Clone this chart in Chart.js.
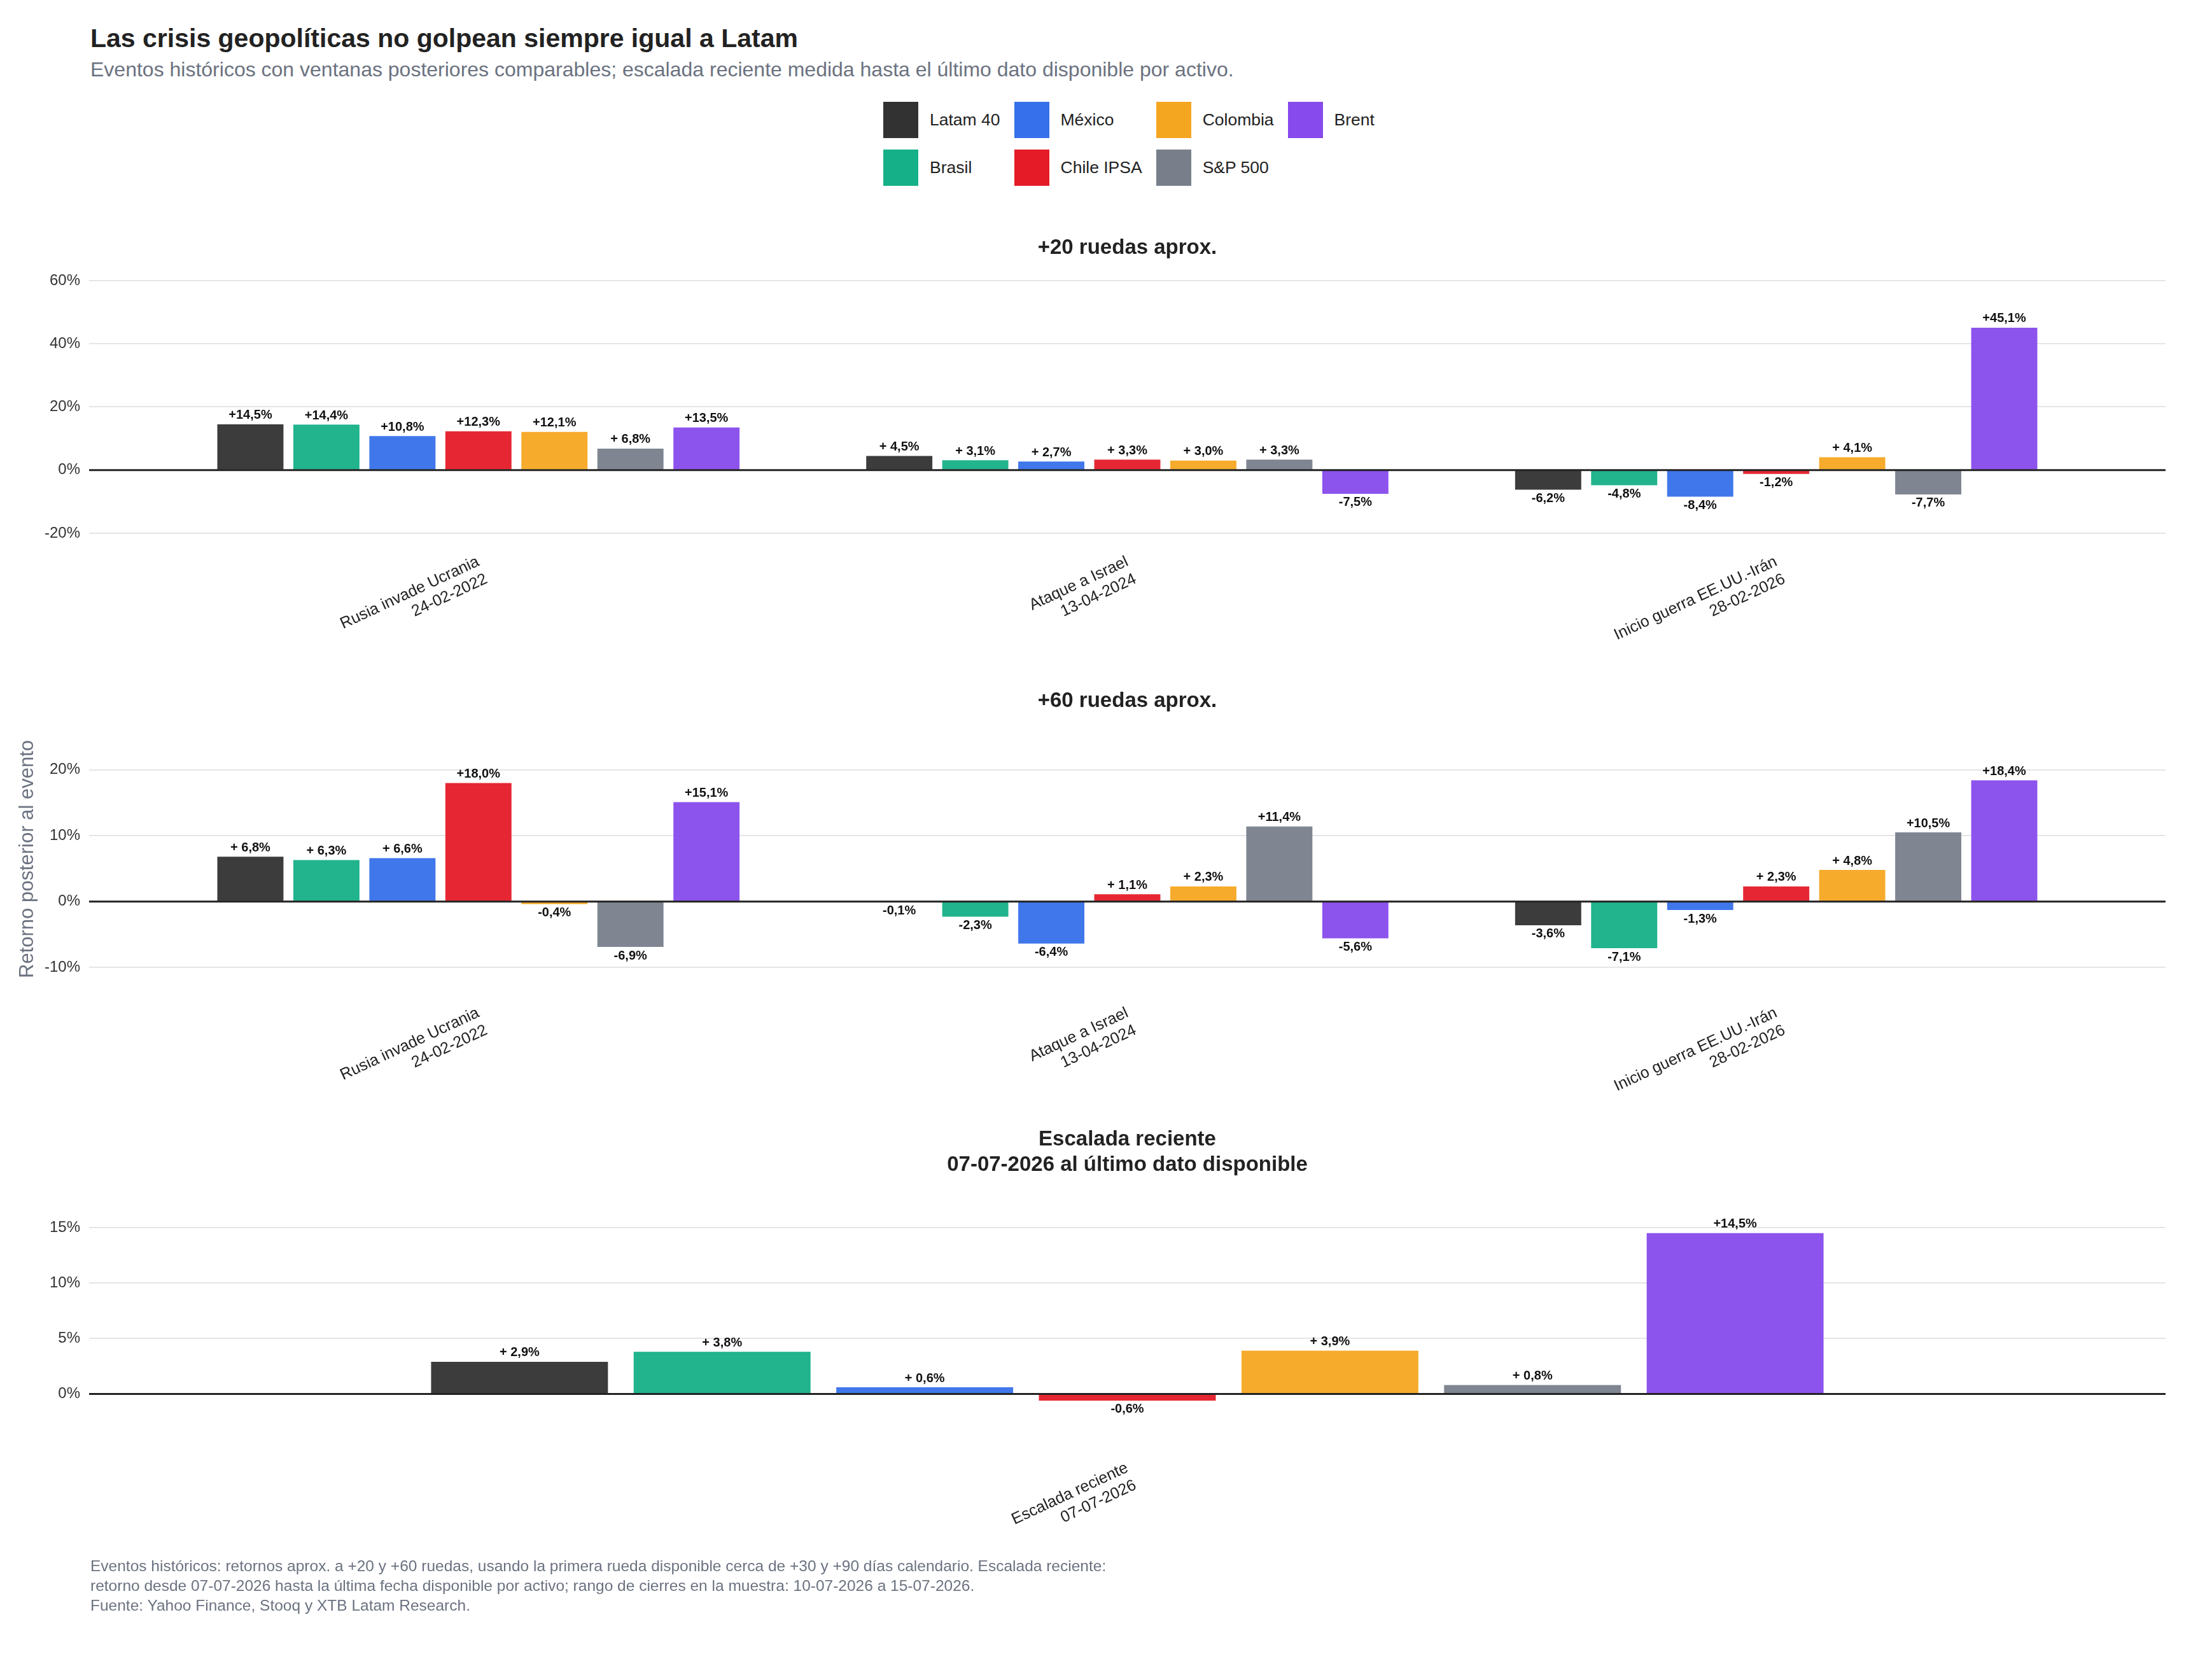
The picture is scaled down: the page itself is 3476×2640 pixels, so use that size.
<!DOCTYPE html>
<html lang="es">
<head>
<meta charset="utf-8">
<title>Las crisis geopolíticas no golpean siempre igual a Latam</title>
<script src="https://cdn.jsdelivr.net/npm/chart.js@4.4.1/dist/chart.umd.min.js"></script>
<style>
  html, body { margin: 0; padding: 0; background: #fff; }
  body { width: 3476px; height: 2640px; position: relative; overflow: hidden; font-family: "Liberation Sans", Arial, sans-serif; }
  .abs { position: absolute; }
  #title { left: 142px; top: 37px; font-size: 41px; font-weight: bold; color: #222; line-height: 46px; }
  #subtitle { left: 142px; top: 90px; font-size: 32px; color: #6b7280; line-height: 38px; }
  #legend { left: 1388px; top: 160px; display: grid; grid-template-rows: 57px 57px; grid-auto-flow: column; row-gap: 18px; column-gap: 22px; }
  .item { display: flex; align-items: center; font-size: 26.5px; color: #222; }
  .swatch { width: 55px; height: 57px; margin-right: 18px; }
  canvas { position: absolute; left: 0; }
  #foot { left: 142px; top: 2445px; font-size: 24.5px; line-height: 31px; color: #6b7280; }
</style>
</head>
<body>
<div id="title" class="abs">Las crisis geopolíticas no golpean siempre igual a Latam</div>
<div id="subtitle" class="abs">Eventos históricos con ventanas posteriores comparables; escalada reciente medida hasta el último dato disponible por activo.</div>
<div id="legend" class="abs"></div>
<canvas id="p20"></canvas>
<canvas id="p60"></canvas>
<canvas id="pRecent"></canvas>
<div id="foot" class="abs">Eventos históricos: retornos aprox. a +20 y +60 ruedas, usando la primera rueda disponible cerca de +30 y +90 días calendario. Escalada reciente:<br>retorno desde 07-07-2026 hasta la última fecha disponible por activo; rango de cierres en la muestra: 10-07-2026 a 15-07-2026.<br>Fuente: Yahoo Finance, Stooq y XTB Latam Research.</div>
<script>
// Series (order of the bars inside each group)
const seriesNames = ['Latam 40', 'Brasil', 'México', 'Chile IPSA', 'Colombia', 'S&P 500', 'Brent'];
const seriesColors = ['#323232', '#15b087', '#3670ea', '#e51b28', '#f5a621', '#787f8b', '#874aec'];

// Categories
const eventLabels = [['Rusia invade Ucrania', '24-02-2022'], ['Ataque a Israel', '13-04-2024'], ['Inicio guerra EE.UU.-Irán', '28-02-2026']];
const recentLabels = [['Escalada reciente', '07-07-2026']];

// +20 ruedas aprox. (% por evento)
const latam20 = [14.5, 4.5, -6.2];
const brasil20 = [14.4, 3.1, -4.8];
const mexico20 = [10.8, 2.7, -8.4];
const chile20 = [12.3, 3.3, -1.2];
const colombia20 = [12.1, 3.0, 4.1];
const sp20 = [6.8, 3.3, -7.7];
const brent20 = [13.5, -7.5, 45.1];

// +60 ruedas aprox.
const latam60 = [6.8, -0.1, -3.6];
const brasil60 = [6.3, -2.3, -7.1];
const mexico60 = [6.6, -6.4, -1.3];
const chile60 = [18.0, 1.1, 2.3];
const colombia60 = [-0.4, 2.3, 4.8];
const sp60 = [-6.9, 11.4, 10.5];
const brent60 = [15.1, -5.6, 18.4];

// Escalada reciente, one value per series
const recent = [2.9, 3.8, 0.6, -0.6, 3.9, 0.8, 14.5];

// y tick labels
const ticks20 = [-20, 0, 20, 40, 60];
const ticks60 = [-10, 0, 10, 20];
const ticksRecent = [0, 5, 10, 15];

Chart.defaults.font.family = '"Liberation Sans", Arial, sans-serif';

// legend
const legend = document.getElementById('legend');
seriesNames.forEach((name, i) => {
  const item = document.createElement('div');
  item.className = 'item';
  item.innerHTML = '<span class="swatch" style="background:' + seriesColors[i] + '"></span>' + name;
  legend.appendChild(item);
});

function fmt(v) {
  if (v >= 0) return '+' + v.toFixed(1).padStart(4, ' ').replace('.', ',') + '%';
  return v.toFixed(1).replace('.', ',') + '%';
}

// value labels on bars + zero line on top
const valueLabels = {
  id: 'valueLabels',
  afterDatasetsDraw(chart) {
    const ctx = chart.ctx;
    const area = chart.chartArea;
    const y0 = chart.scales.y.getPixelForValue(0);
    ctx.save();
    ctx.strokeStyle = '#222';
    ctx.lineWidth = 3;
    ctx.beginPath();
    ctx.moveTo(area.left, y0);
    ctx.lineTo(area.right, y0);
    ctx.stroke();

    ctx.font = 'bold 20px "Liberation Sans", Arial, sans-serif';
    ctx.fillStyle = '#111';
    ctx.textAlign = 'center';
    chart.data.datasets.forEach((ds, i) => {
      chart.getDatasetMeta(i).data.forEach((bar, j) => {
        const v = ds.data[j];
        ctx.textBaseline = v >= 0 ? 'bottom' : 'top';
        ctx.fillText(fmt(v), bar.x, v >= 0 ? bar.y - 4 : bar.y + 4);
      });
    });
    ctx.restore();
  }
};

function panel(id, top, height, cfg) {
  const canvas = document.getElementById(id);
  canvas.width = 3476;
  canvas.height = height;
  canvas.style.top = top + 'px';
  new Chart(canvas, {
    type: 'bar',
    data: {
      labels: cfg.labels,
      datasets: cfg.series.map((vals, i) => ({
        label: seriesNames[i],
        data: vals,
        backgroundColor: seriesColors[i] + 'F2',
        barPercentage: cfg.barPct,
        categoryPercentage: cfg.catPct
      }))
    },
    options: {
      responsive: false,
      animation: false,
      devicePixelRatio: 1,
      layout: { padding: { left: 0, right: 73, top: 0, bottom: 0 } },
      plugins: {
        legend: { display: false },
        tooltip: { enabled: false },
        title: {
          display: true,
          text: cfg.title,
          fullSize: false,
          color: '#222',
          font: { size: 33, weight: 'bold', lineHeight: 1.21 },
          padding: { top: 20, bottom: 31 }
        }
      },
      scales: {
        x: {
          grid: { display: false },
          border: { display: false },
          ticks: { color: '#222', font: { size: 25 }, minRotation: 25, maxRotation: 25, padding: 22, autoSkip: false },
          afterBuildTicks: s => {
            if (cfg.xRange) {
              s._startValue = cfg.xRange[0];
              s._valueRange = cfg.xRange[1] - cfg.xRange[0];
            }
          },
          afterFit: s => { s.height = 200; }
        },
        y: {
          min: cfg.yMin,
          max: cfg.yMax,
          border: { display: false },
          grid: {
            color: c => c.tick.value === 0 ? 'rgba(0,0,0,0)' : '#e5e5e8',
            lineWidth: 2,
            drawTicks: false
          },
          ticks: { color: '#333', font: { size: 24 }, padding: 14, callback: v => v + '%' },
          afterBuildTicks: s => { s.ticks = cfg.ticks.map(v => ({ value: v })); },
          afterFit: s => { s.width = 140; },
          title: cfg.yTitle
            ? { display: true, text: cfg.yTitle, color: '#6b7280', font: { size: 31 }, padding: { top: 25 } }
            : { display: false }
        }
      }
    },
    plugins: [valueLabels]
  });
}

panel('p20', 350, 688, {
  title: '+20 ruedas aprox.',
  labels: eventLabels,
  series: [latam20, brasil20, mexico20, chile20, colombia20, sp20, brent20],
  ticks: ticks20, yMin: -20, yMax: 60,
  xRange: [-0.6, 2.6], barPct: 0.87, catPct: 0.82
});

panel('p60', 1062, 685, {
  title: '+60 ruedas aprox.',
  labels: eventLabels,
  series: [latam60, brasil60, mexico60, chile60, colombia60, sp60, brent60],
  ticks: ticks60, yMin: -12.6, yMax: 25.5,
  xRange: [-0.6, 2.6], barPct: 0.87, catPct: 0.82,
  yTitle: 'Retorno posterior al evento'
});

panel('pRecent', 1751, 711, {
  title: ['Escalada reciente', '07-07-2026 al último dato disponible'],
  labels: recentLabels,
  series: recent.map(v => [v]),
  ticks: ticksRecent, yMin: -4.1, yMax: 17.7,
  barPct: 0.873, catPct: 0.683
});
</script>
</body>
</html>
